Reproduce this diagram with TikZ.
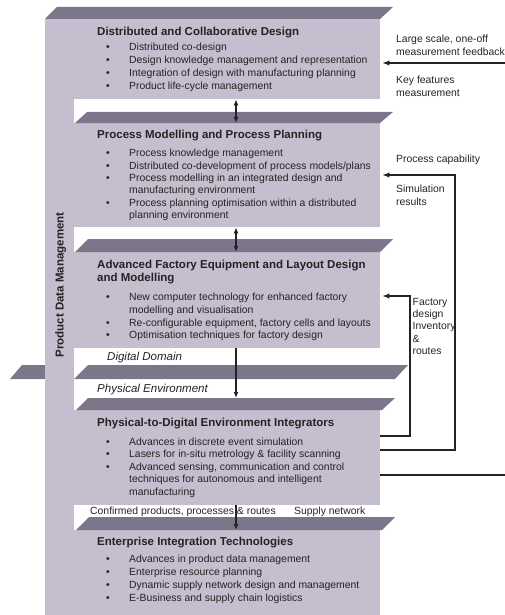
\documentclass[tikz,border=0pt]{standalone}
\usepackage{fontspec}
\setmainfont{Liberation Sans}
\usetikzlibrary{positioning,arrows.meta}
\definecolor{layer}{RGB}{196,190,206}
\definecolor{slabgray}{RGB}{124,118,138}
\definecolor{ink}{RGB}{35,35,35}
\newcommand{\itemdot}{\makebox[23pt][l]{\textbullet}}
\newcommand{\itemcont}{\hspace*{23pt}}

\tikzset{
  body/.style={fill=layer, draw=none, anchor=north west, inner sep=0pt, minimum width=335pt},
  slabbar/.style={fill=slabgray, draw=none},
  title/.style={font=\fontsize{11.5}{13}\selectfont\bfseries, anchor=base west, inner sep=0pt, text=ink, align=left},
  itemlist/.style={font=\fontsize{10.4}{#1}\selectfont, anchor=north west, inner sep=0pt, align=left, text=ink},
  note/.style={font=\fontsize{10.4}{#1}\selectfont, anchor=north west, inner sep=0pt, align=left, text=ink},
  realmlabel/.style={font=\fontsize{11.5}{13}\selectfont\itshape, anchor=base west, inner sep=0pt, text=ink},
  flow/.style={draw=ink, line width=1.2pt, -{Latex[length=6pt,width=5pt]}},
  both/.style={draw=ink, line width=1.2pt, {Latex[length=6pt,width=5pt]}-{Latex[length=6pt,width=5pt]}},
  link/.style={draw=ink, line width=1.3pt, -{Latex[length=7pt,width=5.5pt]}},
}

\begin{document}
\begin{tikzpicture}[x=1pt,y=-1pt]
  \useasboundingbox (0,0) rectangle (504,615);

  % divider between digital and physical side, behind the column
  \fill[slabbar] (10,379) -- (45,379) -- (45,365) -- (22,365) -- cycle;
  \fill[slabbar] (74,379) -- (395,379) -- (408,365) -- (88,365) -- cycle;

  % layers and the product data column
  \node[body, minimum width=29pt, minimum height=596pt] (pdm) at (45,19) {};
  \node[body, minimum height=80pt] (dcd) at (45,19) {};
  \node[body, minimum height=104pt] (pm) at (45,123) {};
  \node[body, minimum height=96pt] (afe) at (45,252) {};
  \node[body, minimum height=95pt] (pdi) at (45,410) {};
  \node[body, minimum height=85pt] (eit) at (45,530) {};

  % top faces
  \fill[slabbar] (45,19) -- (380,19) -- (393,7) -- (57,7) -- cycle;
  \fill[slabbar] (75,123) -- (380,123) -- (393,112) -- (87,112) -- cycle;
  \fill[slabbar] (75,252) -- (380,252) -- (393,239) -- (88,239) -- cycle;
  \fill[slabbar] (76,410) -- (382,410) -- (395,398) -- (88,398) -- cycle;
  \fill[slabbar] (76,530) -- (382,530) -- (395,517) -- (89,517) -- cycle;

  \node[font=\fontsize{11.5}{13}\selectfont\bfseries, text=ink, rotate=90, anchor=base, inner sep=0pt]
    (pdm-label) at (63.5,285) {Product Data Management};

  % Distributed and Collaborative Design
  \node[title] (dcd-title) at (97,36) {Distributed and Collaborative Design};
  \node[itemlist=12.9] (dcd-list) at (106,43) {%
    \itemdot Distributed co-design\\
    \itemdot Design knowledge management and representation\\
    \itemdot Integration of design with manufacturing planning\\
    \itemdot Product life-cycle management};

  % Process Modelling and Process Planning
  \node[title] (pm-title) at (97,139) {Process Modelling and Process Planning};
  \node[itemlist=12.35] (pm-list) at (106,149.2) {%
    \itemdot Process knowledge management\\
    \itemdot Distributed co-development of process models/plans\\
    \itemdot Process modelling in an integrated design and\\
    \itemcont manufacturing environment\\
    \itemdot Process planning optimisation within a distributed\\
    \itemcont planning environment};

  % Advanced Factory Equipment and Layout Design and Modelling
  \node[title, anchor=north west] (afe-title) at (97,259.6) {Advanced Factory Equipment and Layout Design\\and Modelling};
  \node[itemlist=12.6] (afe-list) at (106,293.2) {%
    \itemdot New computer technology for enhanced factory\\
    \itemcont modelling and visualisation\\
    \itemdot Re-configurable equipment, factory cells and layouts\\
    \itemdot Optimisation techniques for factory design};

  \node[realmlabel] (digital) at (107,360) {Digital Domain};
  \node[realmlabel] (physical) at (97,392) {Physical Environment};

  % Physical-to-Digital Environment Integrators
  \node[title] (pdi-title) at (97,426) {Physical-to-Digital Environment Integrators};
  \node[itemlist=12.5] (pdi-list) at (106,437.6) {%
    \itemdot Advances in discrete event simulation\\
    \itemdot Lasers for in-situ metrology \& facility scanning\\
    \itemdot Advanced sensing, communication and control\\
    \itemcont techniques for autonomous and intelligent\\
    \itemcont manufacturing};

  \node[font=\fontsize{10.4}{12.7}\selectfont, text=ink, anchor=base west, inner sep=0pt]
    (confirmed) at (90,514.5) {Confirmed products, processes \& routes};
  \node[font=\fontsize{10.4}{12.7}\selectfont, text=ink, anchor=base west, inner sep=0pt]
    (supply) at (294,514.5) {Supply network};

  % Enterprise Integration Technologies
  \node[title] (eit-title) at (97,545) {Enterprise Integration Technologies};
  \node[itemlist=13] (eit-list) at (106,554.9) {%
    \itemdot Advances in product data management\\
    \itemdot Enterprise resource planning\\
    \itemdot Dynamic supply network design and management\\
    \itemdot E-Business and supply chain logistics};

  % flow between the layers
  \coordinate (axis) at (236,0);
  \draw[both] (dcd.south -| axis) -- (pm.north -| axis);
  \draw[both] (pm.south -| axis) -- (afe.north -| axis);
  \draw[flow] (afe.south -| axis) -- ([yshift=12pt]pdi.north -| axis);
  \draw[flow] (pdi.south -| axis) -- (eit.north -| axis);

  % feedback loops on the right
  \coordinate (meas) at (512,63);
  \coordinate (meas-in) at (512,475);
  \coordinate (cap) at (455,175);
  \coordinate (cap-in) at (455,450);
  \coordinate (fac) at (410,296);
  \coordinate (fac-in) at (410,436);
  \draw[link] (pdi.east |- meas-in) -- (meas-in) -- (meas) -- ([xshift=2pt]dcd.east |- meas);
  \draw[link] (pdi.east |- cap-in) -- (cap-in) -- (cap) -- ([xshift=2pt]pm.east |- cap);
  \draw[link] (pdi.east |- fac-in) -- (fac-in) -- (fac) -- ([xshift=2pt]afe.east |- fac);

  \node[note=13] (large) at (396,35) {Large scale, one-off\\measurement feedback};
  \node[note=13] (key) at (396,76) {Key features\\measurement};
  \node[note=12.4] (capability) at (396,155) {Process capability};
  \node[note=12.4] (simulation) at (396,185.2) {Simulation\\results};
  \node[note=12.2] (factory) at (412.5,298.2) {Factory\\design\\Inventory\\\&\\routes};
\end{tikzpicture}
\end{document}
